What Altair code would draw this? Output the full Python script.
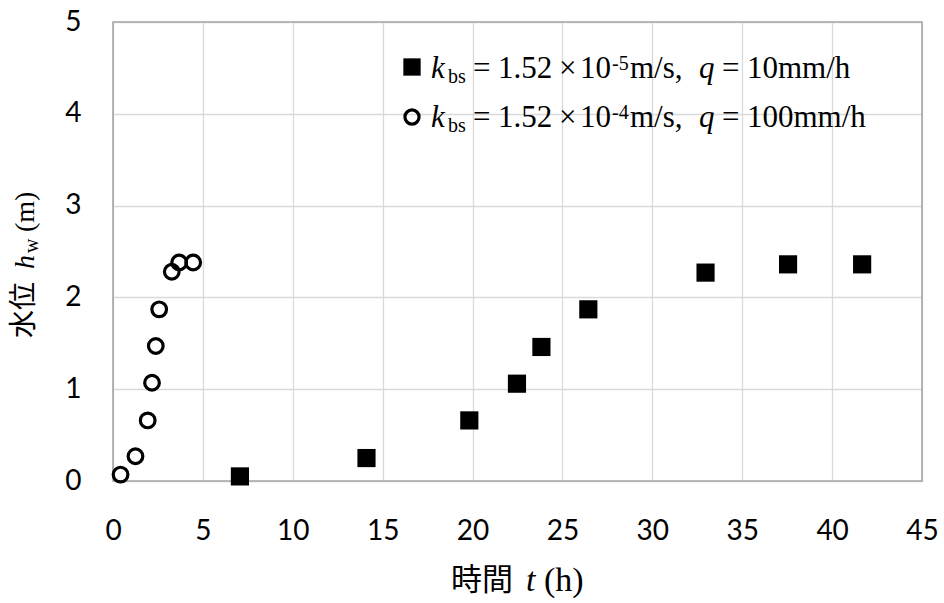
import altair as alt
import pandas as pd

# Water level h_w (m) against time t (h) for the two test runs
t_low = [7.06, 14.10, 19.82, 22.47, 23.83, 26.44, 32.96, 37.55, 41.67]
h_low = [0.05, 0.25, 0.66, 1.06, 1.46, 1.87, 2.27, 2.36, 2.36]
t_high = [0.42, 1.25, 1.93, 2.17, 2.38, 2.57, 3.27, 3.68, 4.46]
h_high = [0.07, 0.27, 0.66, 1.07, 1.47, 1.87, 2.28, 2.38, 2.38]

x_ticks = [0, 5, 10, 15, 20, 25, 30, 35, 40, 45]
y_ticks = [0, 1, 2, 3, 4, 5]

# Legend label pieces (k_bs = ... x 10^exp m/s, q = ...)
leg_k = ["1.52", "1.52"]
leg_exp = ["-5", "-4"]
leg_q = ["10mm/h", "100mm/h"]

W, H = 809, 459
SERIF = "Liberation Serif"
CJK = "Noto Sans CJK JP"
SANS = "Lato"

one = pd.DataFrame({"k": [0]})


def txt(s, x, y, font=SERIF, size=31, style="normal", angle=0):
    return alt.Chart(one).mark_text(
        text=s, font=font, fontSize=size, fontStyle=style, align="left",
        baseline="alphabetic", angle=angle, color="black",
    ).encode(x=alt.value(x), y=alt.value(y))


xs = alt.Scale(domain=[0, 45], nice=False)
ys = alt.Scale(domain=[0, 5], nice=False)

x_axis = alt.Axis(values=x_ticks, title=None, grid=True, domain=False, ticks=False,
                  labelFont=SANS, labelFontSize=28, labelColor="black", format="d",
                  labelPadding=36, labelFlush=False, gridColor="#d9d9d9", gridWidth=1.3)
y_axis = alt.Axis(values=y_ticks, title=None, grid=True, domain=False, ticks=False,
                  labelFont=SANS, labelFontSize=28, labelColor="black", format="d",
                  labelPadding=32, labelFlush=False, gridColor="#d9d9d9", gridWidth=1.3)

df_low = pd.DataFrame({"t": t_low, "h": h_low})
df_high = pd.DataFrame({"t": t_high, "h": h_high})

frame = alt.Chart(one).mark_rect(fill=None, stroke="#a6a6a6", strokeWidth=1.6).encode(
    x=alt.value(0), x2=alt.value(W), y=alt.value(0), y2=alt.value(H))

squares = alt.Chart(df_low).mark_point(shape="square", filled=True, size=330,
                                        color="black", opacity=1).encode(
    x=alt.X("t:Q", scale=xs, axis=x_axis),
    y=alt.Y("h:Q", scale=ys, axis=y_axis),
)
circles = alt.Chart(df_high).mark_point(shape="circle", filled=False, size=215,
                                         strokeWidth=3.2, color="black", opacity=1).encode(
    x=alt.X("t:Q", scale=xs),
    y=alt.Y("h:Q", scale=ys),
)

# Legend markers
leg_sq = alt.Chart(one).mark_point(shape="square", filled=True, size=300,
                                   color="black", opacity=1).encode(
    x=alt.value(299), y=alt.value(45))
leg_ci = alt.Chart(one).mark_point(shape="circle", filled=False, size=200,
                                   strokeWidth=3.2, color="black", opacity=1).encode(
    x=alt.value(299), y=alt.value(95))

layers = [frame, squares, circles, leg_sq, leg_ci]

# Legend text rows
for i, base in enumerate([56, 105]):
    layers += [
        txt("k", 318, base, style="italic"),
        txt("bs", 335, base + 5, size=20),
        txt("=", 360, base),
        txt(leg_k[i], 385, base),
        txt("\u00d7", 446, base),
        txt("10", 467, base),
        txt(leg_exp[i], 499, base - 8, size=20),
        txt("m/s,", 517, base),
        txt("q", 586, base, style="italic"),
        txt("=", 609, base),
        txt(leg_q[i], 634, base),
    ]

# x-axis title: 時間 t (h)
layers += [
    txt("時間", 338, 568, font=CJK, size=31),
    txt("t", 413, 569, size=34, style="italic"),
    txt("(h)", 431, 569, size=34),
]

# y-axis title: 水位 h_w (m), reading upward
layers += [
    txt("水位", -80, 316, font=CJK, size=28, angle=270),
    txt("h", -79, 247, size=28, style="italic", angle=270),
    txt("w", -75, 231, size=20, angle=270),
    txt("(m)", -79, 210, size=28, angle=270),
]

chart = alt.layer(*layers).properties(
    width=W, height=H,
    padding={"left": 113, "top": 22, "right": 22, "bottom": 122},
    autosize=alt.AutoSizeParams(type="none"),
).configure_view(stroke=None)

chart.save("out.html", embed_options={"renderer": "svg", "actions": False})
